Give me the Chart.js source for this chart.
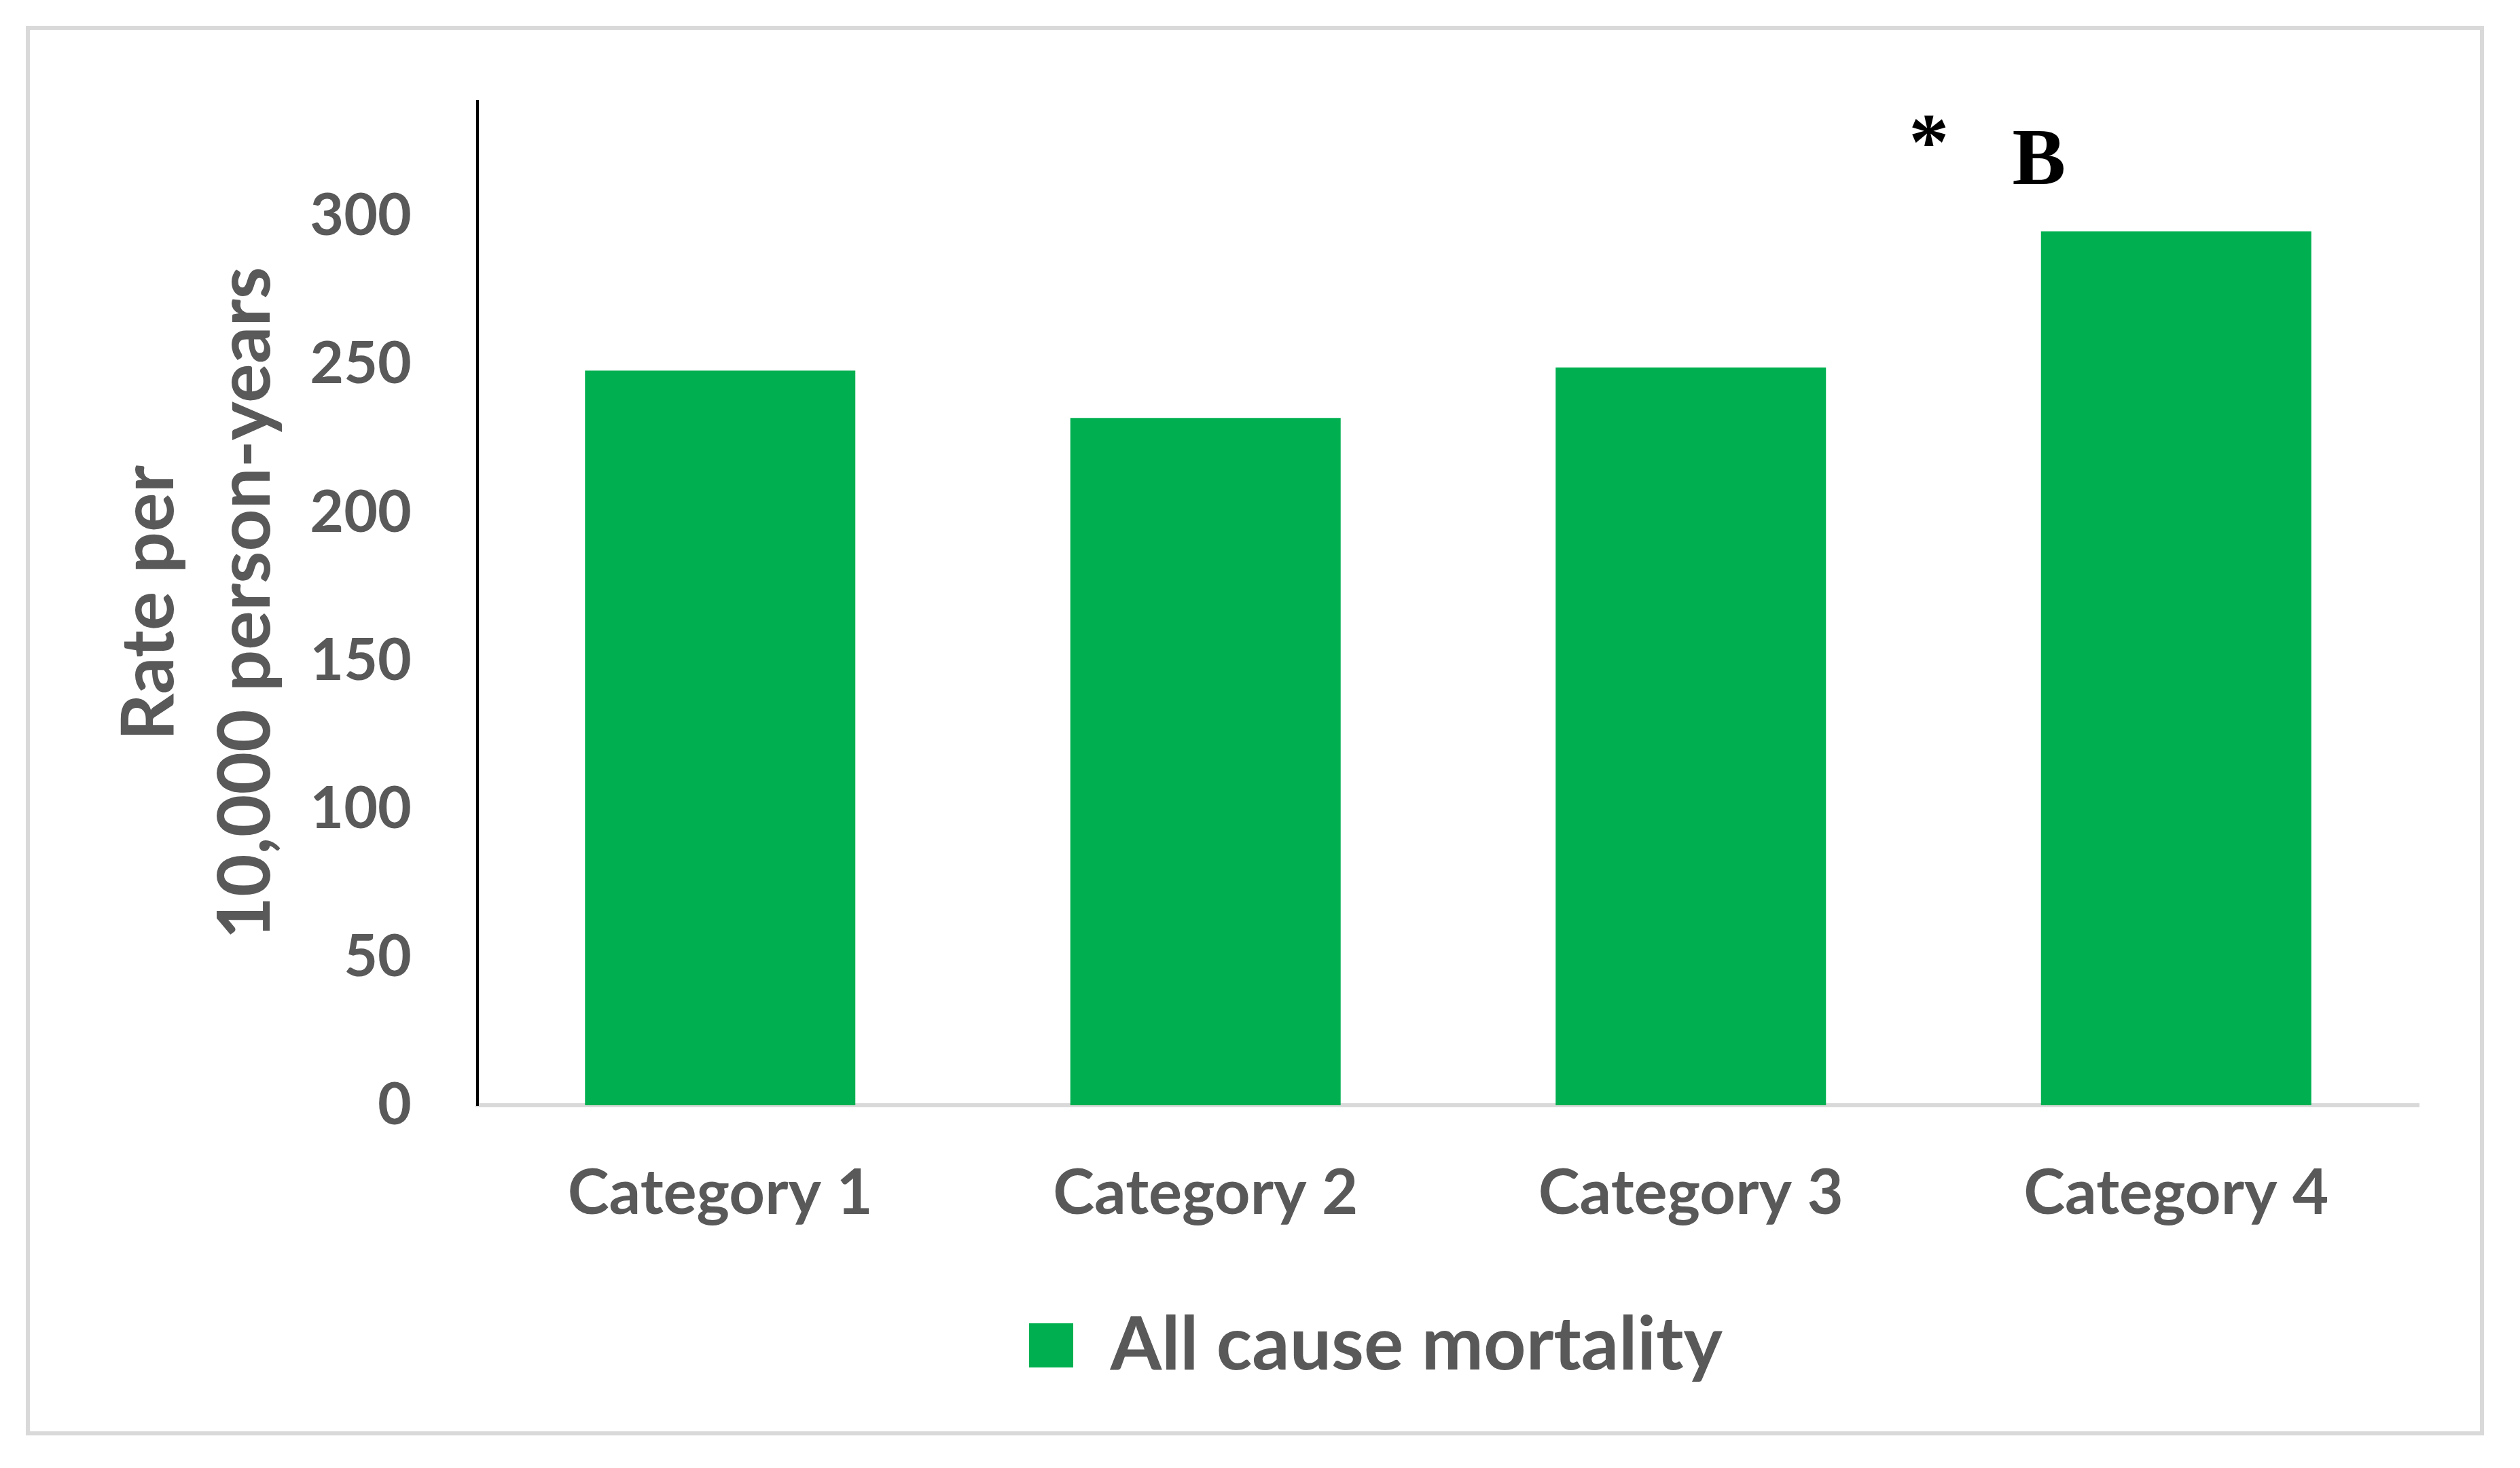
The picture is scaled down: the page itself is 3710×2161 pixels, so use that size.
<!DOCTYPE html>
<html>
<head>
<meta charset="utf-8">
<script src="https://cdn.jsdelivr.net/npm/chart.js@4.4.1/dist/chart.umd.min.js"></script>
<style>
html, body { margin: 0; padding: 0; background: #fff; }
#frame { position: absolute; left: 38px; top: 38px; width: 3607px; height: 2063px; border: 6px solid #d9d9d9; }
canvas { position: absolute; left: 0; top: 0; }
</style>
</head>
<body>
<div id="frame"></div>
<canvas id="c" width="3710" height="2161"></canvas>
<script>
const categories = ['Category 1', 'Category 2', 'Category 3', 'Category 4'];
const mortalityRates = [248, 232, 249, 295];
const seriesName = 'All cause mortality';
const yTicks = [0, 50, 100, 150, 200, 250, 300];
const yTitle = ['Rate per', '10,000 person-years'];
const markLabels = ['*', 'B'];

const grey = '#595959';
const green = '#00b050';

// star and letter above the last bar
const marksPlugin = {
    id: 'marks',
    afterLayout(chart) {
        // legend sits a bit right of the canvas centre in the original
        const lg = chart.legend;
        lg.left += 215; lg.right += 215;
        lg.top += 10; lg.bottom += 10;
    },
    afterDatasetsDraw(chart) {
        const bar = chart.getDatasetMeta(0).data[3];
        const ctx = chart.ctx;
        ctx.save();
        ctx.fillStyle = '#000';
        ctx.textAlign = 'center';
        ctx.font = 'bold 118px "Liberation Serif"';
        const spots = [[bar.x - 364, bar.y - 148], [bar.x - 202, bar.y - 108]];
        markLabels.forEach((t, i) => {
            const m = ctx.measureText(t);
            const base = spots[i][1] + (m.actualBoundingBoxAscent - m.actualBoundingBoxDescent) / 2;
            ctx.fillText(t, spots[i][0], base);
        });
        ctx.restore();
    }
};

const chart = new Chart(document.getElementById('c').getContext('2d'), {
    type: 'bar',
    data: {
        labels: categories,
        datasets: [{
            label: seriesName,
            data: mortalityRates,
            backgroundColor: green,
            borderWidth: 0,
            categoryPercentage: 1,
            barPercentage: 0.557
        }]
    },
    options: {
        responsive: false,
        animation: false,
        devicePixelRatio: 1,
        layout: { padding: { left: 60, top: 145, right: 149, bottom: 126 } },
        plugins: {
            tooltip: { enabled: false },
            legend: {
                position: 'bottom',
                labels: {
                    color: grey,
                    boxWidth: 65,
                    boxHeight: 65,
                    font: { family: 'Lato', weight: 'bold', size: 109 }
                }
            }
        },
        scales: {
            x: {
                grid: { display: false, drawTicks: false },
                border: { display: true, color: '#d9d9d9', width: 6 },
                ticks: { color: grey, padding: 75, font: { family: 'Lato', weight: 'bold', size: 92 } },
                afterFit(s) { s.height = 279; }
            },
            y: {
                min: 0,
                max: 339,
                grid: { display: false, drawTicks: false },
                border: { display: true, color: '#000', width: 4 },
                ticks: { color: grey, padding: 97, font: { family: 'Lato', weight: 'bold', size: 86 } },
                afterBuildTicks(s) { s.ticks = yTicks.map(v => ({ value: v })); },
                afterFit(s) { s.width = 643; },
                title: {
                    display: true,
                    text: yTitle,
                    color: grey,
                    padding: { top: 89, bottom: 0 },
                    font: { family: 'Lato', weight: 'bold', size: 108, lineHeight: 1.315 }
                }
            }
        }
    },
    plugins: [marksPlugin]
});
</script>
</body>
</html>
